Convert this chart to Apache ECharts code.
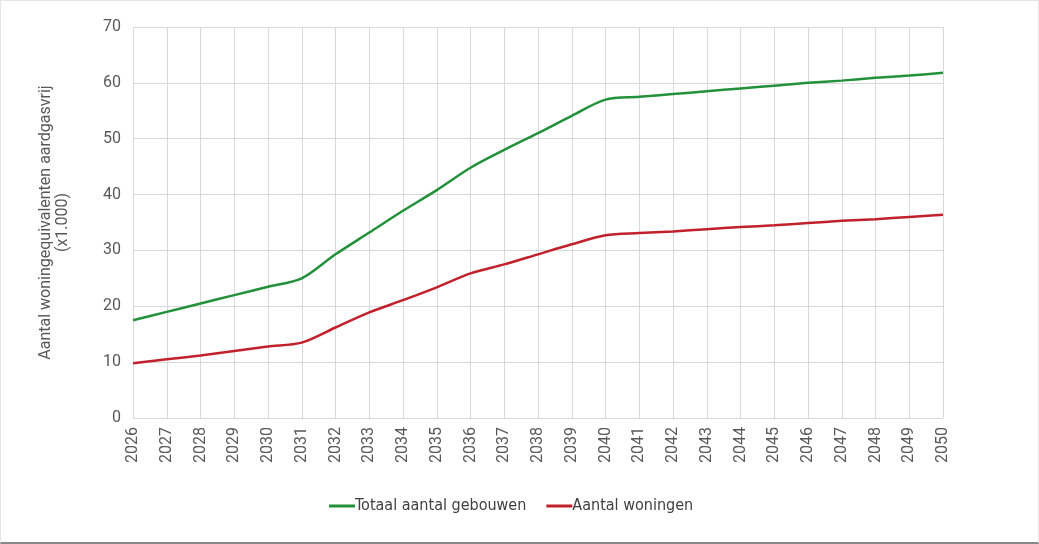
<!DOCTYPE html>
<html>
<head>
<meta charset="utf-8">
<script src="https://cdn.jsdelivr.net/npm/echarts@6/dist/echarts.min.js"></script>
<style>
  html, body { margin: 0; padding: 0; background: #fff; }
  #main { width: 1039px; height: 544px; box-sizing: border-box; border: 1px solid #e6e6e6; border-bottom: 2px solid #888; }
</style>
</head>
<body>
<div id="main"></div>
<script>
var years = ['2026', '2027', '2028', '2029', '2030', '2031', '2032', '2033', '2034', '2035', '2036', '2037',
  '2038', '2039', '2040', '2041', '2042', '2043', '2044', '2045', '2046', '2047', '2048', '2049', '2050'];
var gebouwen = [17.5, 19.0, 20.5, 22.0, 23.5, 25.0, 29.3, 33.2, 37.1, 40.8, 44.8, 48.0,
  51.0, 54.1, 57.0, 57.5, 58.0, 58.5, 59.0, 59.5, 60.0, 60.4, 60.9, 61.3, 61.8];
var woningen = [9.8, 10.5, 11.2, 12.0, 12.8, 13.5, 16.2, 18.9, 21.1, 23.4, 25.9, 27.5,
  29.3, 31.1, 32.7, 33.1, 33.4, 33.8, 34.2, 34.5, 34.9, 35.3, 35.6, 36.0, 36.4];

var myChart = echarts.init(document.getElementById('main'));
var option = {
  animation: false,
  textStyle: { fontFamily: 'Roboto' },
  grid: { left: 132, right: 95, top: 26, bottom: 124 },
  legend: {
    left: 323,
    top: 492,
    icon: 'rect',
    itemWidth: 26,
    itemHeight: 3,
    itemGap: 20,
    textStyle: {
      fontFamily: "'Liberation Sans Narrow', 'DejaVu Sans Condensed', 'Arial Narrow', sans-serif",
      fontSize: 16, color: '#404040', padding: [0, 0, 0, -5]
    },
    data: ['Totaal aantal gebouwen', 'Aantal woningen']
  },
  xAxis: {
    type: 'category',
    data: years,
    boundaryGap: false,
    axisLine: { lineStyle: { color: '#d9d9d9' } },
    axisTick: { show: false },
    splitLine: { show: true, lineStyle: { color: '#d9d9d9' } },
    axisLabel: { rotate: 90, color: '#595959', fontSize: 16, interval: 0, margin: 9 }
  },
  yAxis: {
    type: 'value',
    min: 0,
    max: 70,
    interval: 10,
    name: 'Aantal woningequivalenten aardgasvrij\n(x1.000)',
    nameLocation: 'middle',
    nameGap: 62,
    nameTextStyle: { color: '#595959', fontSize: 16, lineHeight: 17 },
    axisLine: { show: false },
    axisTick: { show: false },
    splitLine: { lineStyle: { color: '#d9d9d9' } },
    axisLabel: { color: '#595959', fontSize: 16, margin: 12 }
  },
  series: [
    {
      name: 'Totaal aantal gebouwen',
      type: 'line',
      data: gebouwen,
      smooth: 0.3,
      symbol: 'none',
      itemStyle: { color: '#22913a' },
      lineStyle: { color: '#22913a', width: 2.5 }
    },
    {
      name: 'Aantal woningen',
      type: 'line',
      data: woningen,
      smooth: 0.3,
      symbol: 'none',
      itemStyle: { color: '#c2202b' },
      lineStyle: { color: '#c2202b', width: 2.5 }
    }
  ]
};
myChart.setOption(option);
</script>
</body>
</html>
